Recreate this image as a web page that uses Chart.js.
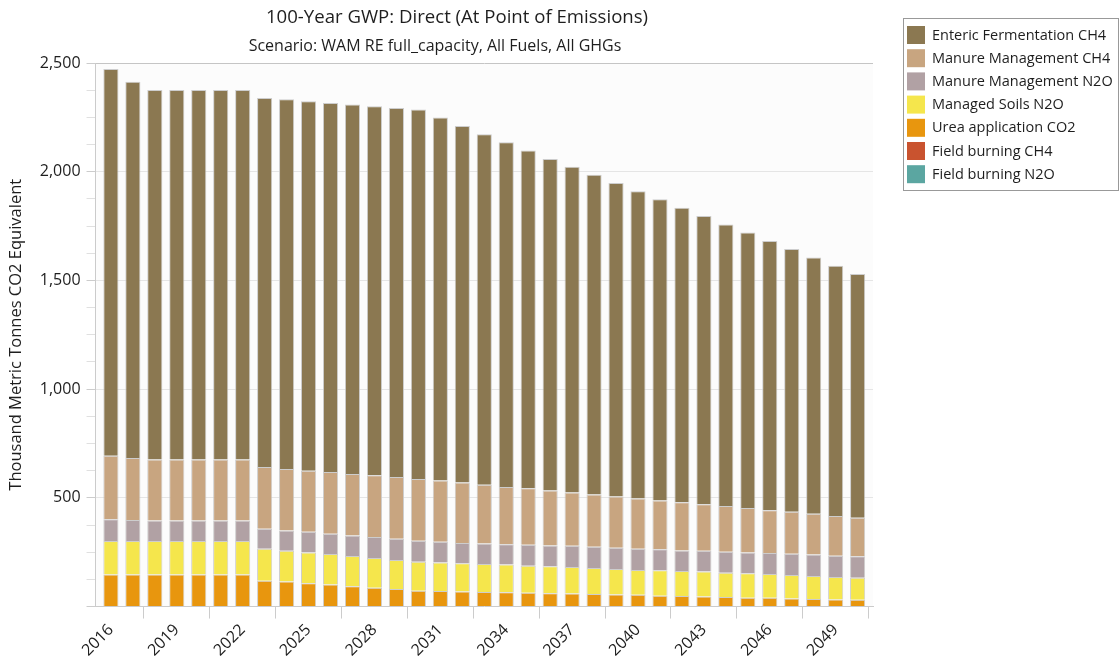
<!DOCTYPE html>
<html>
<head>
<meta charset="utf-8">
<script src="https://cdn.jsdelivr.net/npm/chart.js@4.4.1/dist/chart.umd.min.js"></script>
<style>
  html, body { margin: 0; padding: 0; background: #fff; }
</style>
</head>
<body>
<canvas id="myChart" width="1120" height="666"></canvas>
<script>
const titleText = '100-Year GWP: Direct (At Point of Emissions)'
const subtitleText = 'Scenario: WAM RE full_capacity, All Fuels, All GHGs'
const yTitle = 'Thousand Metric Tonnes CO2 Equivalent'

const years = [2016, 2017, 2018, 2019, 2020, 2021, 2022, 2023, 2024, 2025, 2026, 2027,
  2028, 2029, 2030, 2031, 2032, 2033, 2034, 2035, 2036, 2037, 2038, 2039, 2040, 2041,
  2042, 2043, 2044, 2045, 2046, 2047, 2048, 2049, 2050]

const entericCH4 = [1778, 1731, 1700, 1700, 1700, 1700, 1700, 1697, 1700, 1699, 1697, 1699,
  1697, 1697, 1699, 1669, 1640, 1612, 1585, 1553, 1525, 1499, 1471, 1442, 1413, 1385,
  1354, 1325, 1294, 1267, 1238, 1208, 1178, 1151, 1122]
const manureCH4 = [293, 285, 280, 280, 280, 280, 280, 284, 283, 281, 284, 283,
  284, 284, 284, 282, 278, 270, 264, 260, 253, 244, 240, 235, 231, 225,
  222, 214, 211, 204, 197, 193, 188, 182, 177]
const manureN2O = [100, 97, 95, 95, 95, 95, 95, 92, 93, 95, 93, 95,
  97, 98, 97, 95, 93, 94, 93, 96, 96, 98, 98, 98, 98, 96,
  94, 96, 96, 96, 96, 98, 98, 98, 98]
const soilsN2O = [154, 154, 154, 154, 154, 154, 154, 147, 142, 142, 141, 139,
  136, 133, 133, 131, 130, 129, 127, 124, 124, 122, 119, 118, 114, 117,
  115, 115, 112, 113, 110, 108, 106, 104, 102]
const ureaCO2 = [147, 147, 147, 147, 147, 147, 147, 119, 115, 107, 101, 93,
  87, 81, 73, 72, 69, 67, 66, 64, 61, 60, 58, 55, 54, 50,
  49, 46, 44, 40, 40, 37, 35, 32, 31]
const burningCH4 = [0, 0, 0, 0, 0, 0, 0, 0, 0, 0, 0, 0,
  0, 0, 0, 0, 0, 0, 0, 0, 0, 0, 0, 0, 0, 0,
  0, 0, 0, 0, 0, 0, 0, 0, 0]
const burningN2O = [0, 0, 0, 0, 0, 0, 0, 0, 0, 0, 0, 0,
  0, 0, 0, 0, 0, 0, 0, 0, 0, 0, 0, 0, 0, 0,
  0, 0, 0, 0, 0, 0, 0, 0, 0]

const textColor = '#1e1e1e'
const lineColor = '#cccccc'

Chart.defaults.font.family = '"Open Sans", "Noto Sans", sans-serif'
Chart.defaults.color = textColor

// bottom of the stack first, legend is drawn reversed
const series = [
  { label: 'Field burning N2O', data: burningN2O, color: '#5ba6a1' },
  { label: 'Field burning CH4', data: burningCH4, color: '#c9532f' },
  { label: 'Urea application CO2', data: ureaCO2, color: '#e8960e' },
  { label: 'Managed Soils N2O', data: soilsN2O, color: '#f5e64c' },
  { label: 'Manure Management N2O', data: manureN2O, color: '#b1a1a4' },
  { label: 'Manure Management CH4', data: manureCH4, color: '#c8a580' },
  { label: 'Enteric Fermentation CH4', data: entericCH4, color: '#8b7851' },
]

// titles, plot background and boxed legend
const decorations = {
  id: 'decorations',
  beforeDatasetsDraw(chart) {
    const { ctx, chartArea } = chart
    ctx.save()
    ctx.fillStyle = 'rgba(0,0,0,0.012)'
    ctx.fillRect(chartArea.left, chartArea.top, chartArea.right - chartArea.left, chartArea.bottom - chartArea.top)
    ctx.restore()
  },
  afterDraw(chart) {
    const ctx = chart.ctx
    const family = Chart.defaults.font.family
    ctx.save()
    ctx.fillStyle = textColor
    ctx.textAlign = 'center'
    ctx.textBaseline = 'middle'
    ctx.font = '18.6px ' + family
    ctx.fillText(titleText, 457, 18)
    ctx.font = '16px ' + family
    ctx.fillText(subtitleText, 435, 46)

    ctx.strokeStyle = '#999999'
    ctx.lineWidth = 1
    ctx.strokeRect(903.5, 18.5, 215, 172)

    ctx.textAlign = 'left'
    ctx.font = '14.5px ' + family
    const items = chart.data.datasets.slice().reverse()
    items.forEach((ds, i) => {
      const y = 26 + i * 23.2
      ctx.fillStyle = ds.backgroundColor
      ctx.fillRect(907, y, 18, 18)
      ctx.fillStyle = textColor
      ctx.fillText(ds.label, 932, y + 9.5)
    })
    ctx.restore()
  },
}

const myChart = new Chart('myChart', {
  type: 'bar',
  data: {
    labels: years,
    datasets: series.map((s) => ({
      label: s.label,
      data: s.data,
      backgroundColor: s.color,
      borderColor: 'rgba(200,200,200,0.9)',
      borderWidth: 1,
      barPercentage: 0.69,
      categoryPercentage: 1,
    })),
  },
  options: {
    responsive: false,
    animation: false,
    layout: { padding: { top: 63, right: 247, left: 6, bottom: 4 } },
    plugins: {
      legend: { display: false },
      tooltip: { enabled: false },
    },
    scales: {
      x: {
        type: 'linear',
        stacked: true,
        offset: false,
        min: 2015.3,
        max: 2050.7,
        border: { color: lineColor },
        grid: { drawOnChartArea: false, tickColor: lineColor, tickLength: 12 },
        ticks: {
          stepSize: 3,
          includeBounds: false,
          autoSkip: false,
          maxRotation: 45,
          minRotation: 45,
          padding: 2,
          color: textColor,
          font: { size: 16 },
          callback: (v) => String(v),
        },
      },
      y: {
        stacked: true,
        min: 0,
        max: 2500,
        border: { color: lineColor },
        grid: {
          color: (c) => {
            const v = c.tick.value
            if (v % 500 !== 0 || v === 0) return 'rgba(0,0,0,0)'
            return v === 2500 ? '#c8c8c8' : '#e8e8e8'
          },
          tickColor: (c) => (c.tick.value % 500 === 0 ? lineColor : '#e0e0e0'),
          tickLength: 9,
        },
        ticks: {
          stepSize: 125,
          autoSkip: false,
          padding: 6,
          color: textColor,
          font: { size: 16 },
          callback: (v) => (v % 500 === 0 && v > 0 ? v.toLocaleString('en-US') : ''),
        },
        title: {
          display: true,
          text: yTitle,
          color: textColor,
          font: { size: 16.5 },
          padding: { top: 0, bottom: 8 },
        },
      },
    },
  },
  plugins: [decorations],
})
</script>
</body>
</html>
